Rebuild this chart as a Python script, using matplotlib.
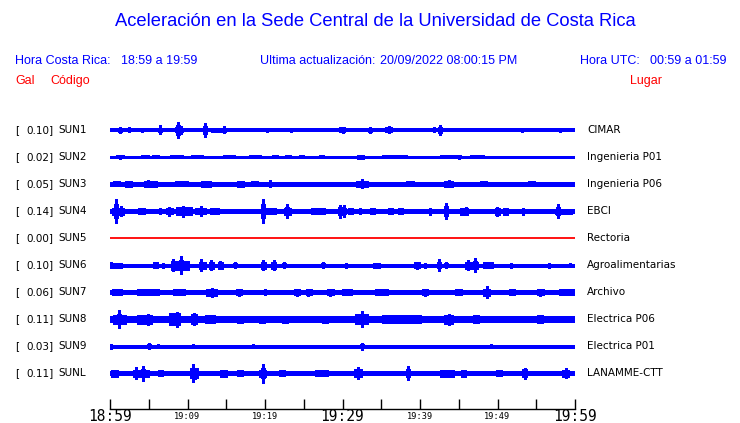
import numpy as np
import matplotlib
matplotlib.use("Agg")
import matplotlib.pyplot as plt

# ---------------- data ----------------
codes = ["SUN1", "SUN2", "SUN3", "SUN4", "SUN5", "SUN6", "SUN7", "SUN8", "SUN9", "SUNL"]
gal = [0.10, 0.02, 0.05, 0.14, 0.00, 0.10, 0.06, 0.11, 0.03, 0.11]
places = ["CIMAR", "Ingenieria P01", "Ingenieria P06", "EBCI", "Rectoria",
          "Agroalimentarias", "Archivo", "Electrica P06", "Electrica P01", "LANAMME-CTT"]

# base half-amplitude of each trace (pixels)
base_amp = [1.5, 0.8, 1.8, 2.0, 0.0, 1.5, 2.2, 2.8, 1.5, 2.2]

# bursts: (start minute, end minute, half-amplitude px)
bursts = [
    [(13.1, 14.8, 2.2), (29.6, 30.3, 2.5), (35.6, 36.3, 2.5)],
    [(0.9, 1.7, 1.5), (4.1, 5.0, 1.5), (5.5, 6.2, 1.5), (7.8, 9.4, 1.5), (10.5, 11.9, 1.5),
     (14.6, 16.0, 1.5), (18.0, 19.4, 1.5), (21.0, 21.6, 1.5), (22.7, 23.3, 1.5),
     (24.4, 25.0, 1.5), (27.0, 27.6, 1.5), (32.0, 32.7, 1.8), (35.2, 38.3, 1.5),
     (42.6, 45.2, 1.5), (46.5, 48.2, 1.5), (49.4, 52.5, 1.4), (53.8, 57.2, 1.4)],
    [(0.5, 1.2, 2.5), (2.0, 2.8, 3.0), (4.5, 6.0, 3.0), (8.5, 10.0, 2.5), (11.8, 13.0, 2.7),
     (16.5, 17.2, 2.7), (18.3, 19.0, 2.5), (31.8, 33.2, 3.0), (38.3, 39.2, 2.5),
     (43.2, 44.2, 3.0), (47.8, 48.6, 2.5), (54.0, 54.8, 2.5)],
    [(0.3, 1.8, 3.5), (3.7, 4.5, 3.0), (7.3, 8.0, 3.0), (8.6, 10.5, 4.0), (11.0, 12.3, 3.0),
     (13.0, 14.0, 3.0), (19.9, 21.3, 3.0), (22.5, 23.3, 3.5), (26.0, 27.7, 3.0),
     (30.8, 31.3, 3.0), (33.6, 34.1, 3.0), (35.9, 36.4, 3.0), (37.2, 37.7, 3.0),
     (45.2, 46.1, 3.5), (49.7, 50.2, 3.5), (50.8, 51.3, 3.5), (57.5, 59.5, 2.5)],
    [],
    [(0.3, 1.5, 2.5), (5.6, 6.1, 3.0), (8.0, 10.1, 4.5), (11.5, 12.3, 3.5), (12.8, 13.4, 3.5),
     (14.0, 14.5, 3.5), (19.6, 20.0, 3.5), (20.9, 21.3, 3.5), (34.0, 34.8, 2.5),
     (39.3, 39.9, 3.0), (45.9, 47.4, 3.5), (48.2, 49.4, 2.7)],
    [(0.3, 1.5, 3.0), (3.6, 5.1, 3.0), (5.3, 6.3, 3.0), (8.2, 9.6, 3.0), (12.5, 13.8, 3.5),
     (16.3, 17.0, 3.0), (23.8, 24.5, 3.0), (25.3, 26.0, 3.0), (28.1, 28.8, 3.0),
     (30.0, 31.2, 3.0), (34.2, 35.8, 3.0), (40.3, 41.0, 3.0), (44.6, 45.3, 3.0),
     (48.2, 49.0, 3.5), (51.5, 52.2, 3.0), (55.1, 55.9, 3.0), (58.0, 60.0, 2.8)],
    [(0.5, 2.0, 4.5), (3.6, 5.4, 4.5), (7.7, 9.0, 6.0), (10.5, 11.2, 5.0), (12.3, 13.5, 4.0),
     (16.5, 17.1, 3.5), (19.3, 19.9, 3.5), (22.3, 22.9, 3.5), (27.4, 28.0, 3.5),
     (31.7, 33.2, 5.0), (35.2, 40.0, 3.8), (43.2, 44.2, 4.5), (46.9, 47.5, 4.0),
     (55.2, 55.8, 4.0), (57.0, 59.5, 3.3)],
    [],
    [(0.2, 1.0, 3.5), (3.0, 5.0, 3.5), (6.2, 6.8, 3.0), (10.4, 11.3, 5.0), (14.2, 15.0, 3.5),
     (16.5, 17.1, 3.0), (19.3, 20.1, 3.5), (21.9, 22.5, 3.0), (26.5, 28.0, 3.0),
     (31.6, 32.4, 4.0), (42.6, 44.3, 3.5), (45.3, 45.9, 3.5), (49.9, 50.5, 3.0),
     (53.2, 53.8, 4.0), (58.4, 59.2, 3.5)],
]

# spikes: (minute, half-amplitude px)
spikes = [
    [(1.25, 3.2), (2.4, 2.5), (4.1, 2.0), (6.5, 4.5), (8.5, 2.5), (8.8, 8.3), (9.1, 4.0),
     (12.2, 6.8), (14.7, 3.5), (20.2, 2.0), (23.4, 2.0), (30.0, 3.0), (33.5, 3.0),
     (36.0, 3.5), (41.8, 2.5), (42.6, 5.0), (53.1, 2.0), (58.1, 2.0)],
    [(1.3, 1.8), (32.3, 2.0), (45.0, 1.8)],
    [(0.86, 2.5), (2.4, 3.0), (4.9, 3.5), (5.6, 3.0), (12.3, 3.0), (16.8, 3.0), (18.7, 2.5),
     (20.6, 3.5), (32.5, 4.5), (38.7, 2.5), (43.7, 3.5), (48.2, 2.5), (54.4, 2.5), (58.1, 2.0)],
    [(0.8, 12.3), (1.4, 5.0), (4.1, 3.0), (6.5, 3.0), (7.6, 4.5), (9.4, 5.5), (11.8, 5.0),
     (13.5, 3.0), (19.7, 12.2), (22.9, 7.3), (29.7, 6.5), (30.2, 6.0), (31.0, 3.0),
     (32.3, 3.0), (41.3, 3.5), (43.4, 8.3), (45.9, 4.0), (49.9, 4.5), (53.3, 3.5), (57.8, 7.3)],
    [],
    [(0.13, 3.0), (5.8, 3.0), (6.9, 2.5), (8.1, 6.0), (9.1, 8.8), (10.0, 3.0), (11.8, 5.8),
     (13.0, 5.0), (14.2, 4.0), (16.1, 3.0), (19.8, 5.0), (21.1, 5.0), (22.5, 3.0),
     (27.5, 3.0), (30.5, 2.5), (39.6, 3.5), (40.6, 2.5), (42.4, 5.8), (43.4, 3.0),
     (46.2, 5.0), (47.1, 7.2), (51.8, 2.5), (56.6, 2.5), (59.4, 2.0)],
    [(13.1, 4.5), (16.6, 3.5), (20.0, 3.0), (24.1, 3.5), (25.6, 3.5), (28.4, 3.5),
     (40.6, 3.5), (44.9, 3.0), (48.6, 5.7), (55.5, 3.5), (58.5, 3.0)],
    [(1.2, 9.2), (4.9, 5.5), (8.7, 7.5), (10.8, 6.0), (16.8, 3.5), (19.6, 3.5), (22.6, 3.5),
     (27.7, 3.5), (32.5, 8.3), (43.7, 5.5), (47.2, 4.0), (55.5, 4.0)],
    [(0.1, 2.5), (5.0, 3.0), (6.2, 2.0), (10.7, 2.0), (18.5, 2.0), (32.5, 3.5), (49.2, 2.0)],
    [(3.4, 5.8), (4.2, 7.5), (4.9, 3.5), (6.5, 3.0), (10.7, 9.0), (11.0, 5.5), (14.6, 3.5),
     (16.8, 3.0), (19.6, 3.5), (19.8, 9.5), (22.2, 3.0), (32.0, 6.3), (38.4, 6.8),
     (45.6, 3.5), (50.2, 3.0), (53.5, 5.5), (58.8, 5.0)],
]

tick_minutes = list(range(0, 61, 5))
tick_labels = ["18:59", "", "19:09", "", "19:19", "", "19:29", "", "19:39", "", "19:49", "", "19:59"]
big_labels = {"18:59", "19:29", "19:59"}

title = "Aceleración en la Sede Central de la Universidad de Costa Rica"
hora_cr = "18:59 a 19:59"
hora_utc = "00:59 a 01:59"
updated = "20/09/2022 08:00:15 PM"

# ---------------- figure ----------------
W, H = 740, 423
fig = plt.figure(figsize=(W / 100, H / 100), dpi=100)
BLUE = "#0000ff"
RED = "#ff0000"
SANS = ["Liberation Sans", "DejaVu Sans"]


def fx(px):
    return px / W


def fy(py):
    return 1 - py / H


# header texts
fig.text(fx(375), fy(22), title, color=BLUE, fontsize=13.2, family=SANS, ha="center", va="center")
fig.text(fx(15), fy(61), "Hora Costa Rica:", color=BLUE, fontsize=9, family=SANS, va="center")
fig.text(fx(121), fy(61), hora_cr, color=BLUE, fontsize=9, family=SANS, va="center")
fig.text(fx(260), fy(61), "Ultima actualización:", color=BLUE, fontsize=9, family=SANS, va="center")
fig.text(fx(380), fy(61), updated, color=BLUE, fontsize=9, family=SANS, va="center")
fig.text(fx(580), fy(61), "Hora UTC:", color=BLUE, fontsize=9, family=SANS, va="center")
fig.text(fx(650), fy(61), hora_utc, color=BLUE, fontsize=9, family=SANS, va="center")
fig.text(fx(15), fy(81), "Gal", color=RED, fontsize=9, family=SANS, va="center")
fig.text(fx(50), fy(81), "Código", color=RED, fontsize=9, family=SANS, va="center")
fig.text(fx(630), fy(81), "Lugar", color=RED, fontsize=9, family=SANS, va="center")

# main axes: x in minutes, y in pixel rows
top_px, bot_px = 100, 423
ax = fig.add_axes([fx(110), fy(bot_px), fx(465), (bot_px - top_px) / H])
ax.set_xlim(0, 60)
ax.set_ylim(bot_px, top_px)
for s in ["top", "left", "right"]:
    ax.spines[s].set_visible(False)
ax.spines["bottom"].set_position(("data", 409))
ax.spines["bottom"].set_linewidth(1.0)
ax.set_yticks([])
ax.set_xticks(tick_minutes)
ax.set_xticklabels([])
ax.tick_params(axis="x", direction="in", length=7.5, width=1.0)
for t, lab in zip(tick_minutes, tick_labels):
    if not lab:
        continue
    big = lab in big_labels
    ax.text(t, 421.0 if big else 418.5, lab, family="DejaVu Sans Mono",
            fontsize=10.5 if big else 6.2, ha="center", va="baseline", clip_on=False)

xg = np.linspace(0, 60, 466)
row0, dy = 130, 27
for i, code in enumerate(codes):
    yc = row0 + dy * i
    if code == "SUN5":
        ax.hlines(yc, 0, 60, color=RED, lw=1.3)
    else:
        env = np.full_like(xg, base_amp[i])
        for t0, t1, a in bursts[i]:
            m = (xg >= t0) & (xg <= t1)
            env[m] = np.maximum(env[m], a)
        for t, a in spikes[i]:
            k = int(np.argmin(np.abs(xg - t)))
            env[k] = max(env[k], a)
            for kk in (k - 1, k + 1):
                if 0 <= kk < len(env):
                    env[kk] = max(env[kk], 0.55 * a)
        ax.vlines(xg, yc - env, yc + env, color=BLUE, lw=1.0, antialiased=False)
    fig.text(fx(15), fy(yc), "[", fontsize=7.5, family="DejaVu Sans", va="center")
    fig.text(fx(53.5), fy(yc), f"{gal[i]:.2f}]", fontsize=7.5, family="DejaVu Sans",
             va="center", ha="right")
    fig.text(fx(58), fy(yc), code, fontsize=7.5, family="DejaVu Sans", va="center")
    fig.text(fx(587), fy(yc), places[i], fontsize=7.5, family="DejaVu Sans", va="center")

fig.savefig("out.png", dpi=100)
